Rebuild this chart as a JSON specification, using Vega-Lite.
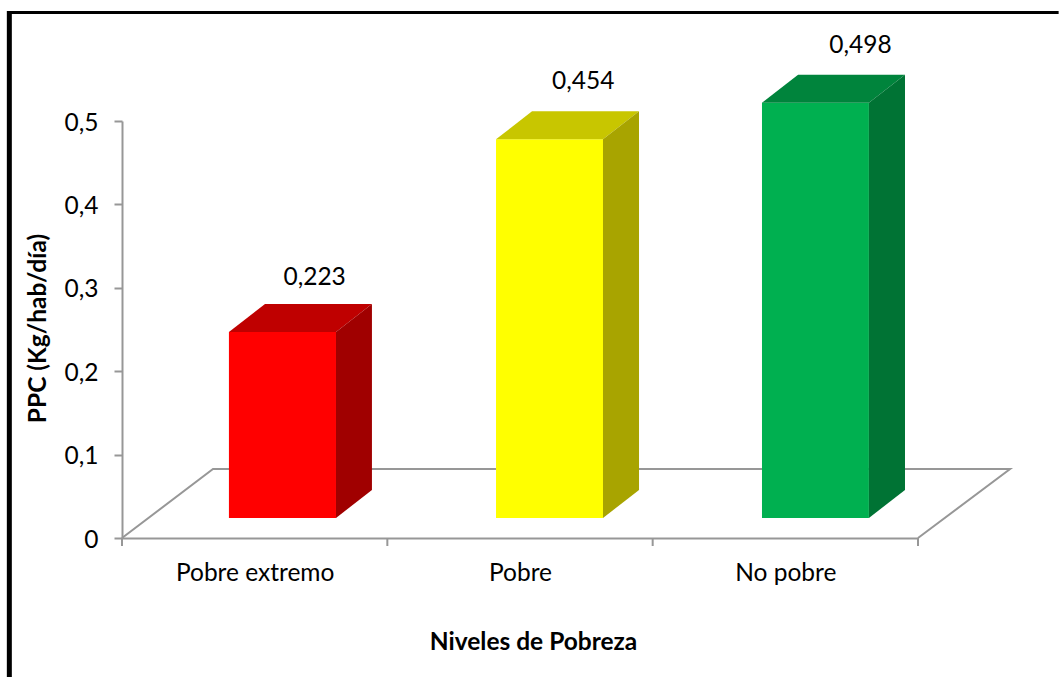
{
"$schema":"https://vega.github.io/schema/vega-lite/v6.json",
"width":796,"height":417,
"autosize":{"type":"none"},
"padding":{"left":122,"top":121,"right":141,"bottom":139},
"background":"white",
"config":{"view":{"stroke":null},"font":"Lato"},
"datasets":{
"floor":[
{"orden":1,"x":0,"y":0},{"orden":2,"x":0.343,"y":0.0827},{"orden":3,"x":3.347,"y":0.0827},{"orden":4,"x":3,"y":0}
],
"ticks":[{"x":0,"y":0,"y2":-0.0096},{"x":1,"y":0,"y2":-0.0096},{"x":2,"y":0,"y2":-0.0096},{"x":3,"y":0,"y2":-0.0096}],
"front":[
{"parte":"Pobre extremo frente","x":0.403,"x2":0.8065,"y":0.024,"y2":0.247},
{"parte":"Pobre frente","x":1.4096,"x2":1.8128,"y":0.024,"y2":0.478},
{"parte":"No pobre frente","x":2.412,"x2":2.815,"y":0.024,"y2":0.522}
],
"top":[
{"parte":"Pobre extremo arriba","y":0.247,"x":0.403,"x2":0.8065},
{"parte":"Pobre extremo arriba","y":0.2806,"x":0.539,"x2":0.942},
{"parte":"Pobre arriba","y":0.478,"x":1.4096,"x2":1.8128},
{"parte":"Pobre arriba","y":0.5116,"x":1.5454,"x2":1.9486},
{"parte":"No pobre arriba","y":0.522,"x":2.412,"x2":2.815},
{"parte":"No pobre arriba","y":0.5556,"x":2.548,"x2":2.951}
],
"side":[
{"parte":"Pobre extremo lado","x":0.8065,"y":0.024,"y2":0.247},
{"parte":"Pobre extremo lado","x":0.942,"y":0.0576,"y2":0.2806},
{"parte":"Pobre lado","x":1.8128,"y":0.024,"y2":0.478},
{"parte":"Pobre lado","x":1.9486,"y":0.0576,"y2":0.5116},
{"parte":"No pobre lado","x":2.815,"y":0.024,"y2":0.522},
{"parte":"No pobre lado","x":2.951,"y":0.0576,"y2":0.5556}
],
"values":[
{"nivel":"Pobre extremo","ppc":0.223,"etiqueta":"0,223","x":0.726,"y":0.3112},
{"nivel":"Pobre","ppc":0.454,"etiqueta":"0,454","x":1.738,"y":0.5464},
{"nivel":"No pobre","ppc":0.498,"etiqueta":"0,498","x":2.783,"y":0.5904}
]
},
"layer":[
{"data":{"name":"floor"},"mark":{"type":"line","color":"#979797","strokeWidth":2,"interpolate":"linear"},
"encoding":{
"x":{"field":"x","type":"quantitative","scale":{"domain":[0,3],"nice":false,"zero":false},
"axis":{"values":[0.5,1.5,2.5],"ticks":false,"domain":true,"domainColor":"#979797","domainWidth":2,"grid":false,
"labelExpr":"datum.value==0.5?'Pobre extremo':datum.value==1.5?'Pobre':'No pobre'",
"labelFontSize":24.5,"labelColor":"#000000","labelPadding":23,"labelFont":"Lato",
"title":"Niveles de Pobreza","titleFontSize":24.5,"titleFontWeight":"bold","titleColor":"#000000","titleFont":"Lato","titleX":411,"titleY":111,"titleBaseline":"alphabetic"}},
"y":{"field":"y","type":"quantitative","scale":{"domain":[0,0.5],"nice":false,"zero":false},
"axis":{"values":[0,0.1,0.2,0.3,0.4,0.5],"tickSize":8,"tickWidth":2,"tickColor":"#979797","domain":true,"domainColor":"#979797","domainWidth":2,"grid":false,
"labelExpr":"replace(''+datum.value,'.',',')","labelFontSize":24.5,"labelColor":"#000000","labelPadding":16,"labelOffset":2,"labelFont":"Lato",
"title":"PPC (Kg/hab/día)","titleFontSize":24.5,"titleFontWeight":"bold","titleColor":"#000000","titleFont":"Lato","titleX":-77,"titleY":207,"titleBaseline":"alphabetic"}},
"order":{"field":"orden","type":"quantitative"}}},
{"data":{"name":"ticks"},"mark":{"type":"rule","color":"#979797","strokeWidth":2},
"encoding":{"x":{"field":"x","type":"quantitative"},"y":{"field":"y","type":"quantitative"},"y2":{"field":"y2"}}},
{"data":{"name":"front"},"mark":{"type":"rect"},
"encoding":{"x":{"field":"x","type":"quantitative"},"x2":{"field":"x2"},"y":{"field":"y","type":"quantitative"},"y2":{"field":"y2"},
"color":{"field":"parte","type":"nominal","legend":null,
"scale":{"domain":["Pobre extremo frente","Pobre extremo arriba","Pobre extremo lado","Pobre frente","Pobre arriba","Pobre lado","No pobre frente","No pobre arriba","No pobre lado"],
"range":["#FF0000","#BF0000","#A00000","#FFFF00","#C8C600","#A8A400","#00B050","#00843C","#007334"]}}}},
{"data":{"name":"top"},"mark":{"type":"area","orient":"horizontal"},
"encoding":{"y":{"field":"y","type":"quantitative"},"x":{"field":"x","type":"quantitative"},"x2":{"field":"x2"},
"color":{"field":"parte","type":"nominal","legend":null}}},
{"data":{"name":"side"},"mark":{"type":"area","orient":"vertical"},
"encoding":{"x":{"field":"x","type":"quantitative"},"y":{"field":"y","type":"quantitative"},"y2":{"field":"y2"},
"color":{"field":"parte","type":"nominal","legend":null}}},
{"data":{"name":"values"},"mark":{"type":"text","fontSize":24.5,"color":"#000000","font":"Lato","align":"center","baseline":"middle"},
"encoding":{"x":{"field":"x","type":"quantitative"},"y":{"field":"y","type":"quantitative"},"text":{"field":"etiqueta","type":"nominal"}}},
{"data":{"values":[{"x":-0.4246,"y":0.632,"y2":-0.1667}]},"mark":{"type":"rule","color":"#000000","strokeWidth":5},
"encoding":{"x":{"field":"x","type":"quantitative"},"y":{"field":"y","type":"quantitative"},"y2":{"field":"y2"}}},
{"data":{"values":[{"x":-0.4334,"x2":3.53,"y":0.63}]},"mark":{"type":"rule","color":"#000000","strokeWidth":3},
"encoding":{"x":{"field":"x","type":"quantitative"},"x2":{"field":"x2"},"y":{"field":"y","type":"quantitative"}}}
]
}
